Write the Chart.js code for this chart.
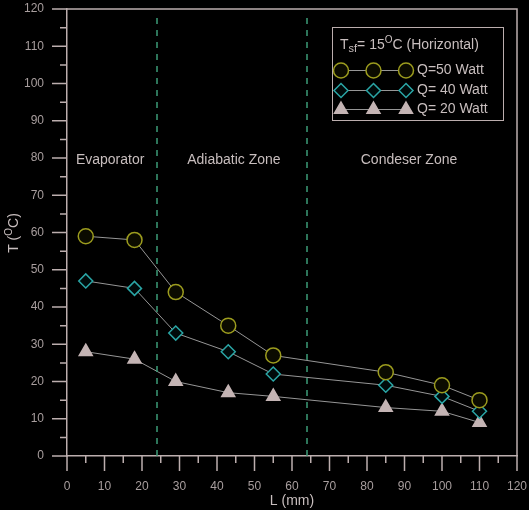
<!DOCTYPE html>
<html>
<head>
<meta charset="utf-8">
<script src="https://cdn.jsdelivr.net/npm/chart.js"></script>
<style>
  html, body { margin: 0; padding: 0; background: #000; }
  #wrap { width: 529px; height: 510px; }
</style>
</head>
<body>
<div id="wrap"><canvas id="myChart" width="529" height="510"></canvas></div>
<script>
// values
var lengths = [5, 18, 29, 43, 55, 85, 100, 110];
var q50 = [59, 58, 44, 35, 27, 22.5, 19, 15];
var q40 = [47, 45, 33, 28, 22, 19, 16, 12];
var q20 = [28, 26, 20, 17, 16, 13, 12, 9];
var seriesNames = ["Q=50 Watt", "Q= 40 Watt", "Q= 20 Watt"];
var zoneBounds = [24, 64];
var zoneNames = ["Evaporator", "Adiabatic Zone", "Condeser Zone"];

var FONT = "'Liberation Sans', Arial, sans-serif";
var axisColor = "#bcaeae";
var textColor = "#c8bebe";

function pts(ys) {
  return ys.map(function (y, i) { return { x: lengths[i], y: y }; });
}

var styles = [
  { pointStyle: "circle", radius: 7.5, border: "#9c9c1e", fill: "#0b0b00" },
  { pointStyle: "rectRot", radius: 7, border: "#2aa6a6", fill: "#000a0a" },
  { pointStyle: "triangle", radius: 7.5, border: "#c4b4b4", fill: "#c4b4b4" }
];

var datasets = [];
zoneBounds.forEach(function (b) {
  datasets.push({
    data: [{ x: b, y: 0 }, { x: b, y: 119 }],
    borderColor: "#3c9c78",
    borderWidth: 1.5,
    borderDash: [6, 6],
    pointRadius: 0,
    showLine: true
  });
});
[q50, q40, q20].forEach(function (ys, i) {
  var s = styles[i];
  datasets.push({
    label: seriesNames[i],
    data: pts(ys),
    showLine: true,
    borderColor: "#969696",
    borderWidth: 1,
    pointStyle: s.pointStyle,
    pointRadius: s.radius,
    pointBorderColor: s.border,
    pointBackgroundColor: s.fill,
    pointBorderWidth: 1.5
  });
});

function drawMarker(ctx, s, x, y) {
  ctx.save();
  ctx.strokeStyle = s.border;
  ctx.fillStyle = s.fill;
  ctx.lineWidth = 1.5;
  ctx.beginPath();
  var r = s.radius;
  if (s.pointStyle == "circle") {
    ctx.arc(x, y, r, 0, Math.PI * 2);
  } else if (s.pointStyle == "rectRot") {
    ctx.moveTo(x, y - r); ctx.lineTo(x + r, y); ctx.lineTo(x, y + r); ctx.lineTo(x - r, y);
    ctx.closePath();
  } else {
    var h = r * 0.866;
    ctx.moveTo(x, y - r); ctx.lineTo(x + h, y + r / 2); ctx.lineTo(x - h, y + r / 2);
    ctx.closePath();
  }
  ctx.fill();
  ctx.stroke();
  ctx.restore();
}

function noPad(s) {
  s.paddingLeft = 0; s.paddingRight = 0; s.paddingTop = 0; s.paddingBottom = 0;
}

var extras = {
  id: "extras",
  beforeDraw: function (chart) {
    var ctx = chart.ctx;
    ctx.save();
    ctx.fillStyle = "#000";
    ctx.fillRect(0, 0, chart.width, chart.height);
    ctx.restore();
  },
  afterDraw: function (chart) {
    var ctx = chart.ctx;
    var xs = chart.scales.x, ys = chart.scales.y;
    var a = chart.chartArea;
    ctx.save();
    ctx.strokeStyle = axisColor;
    ctx.lineWidth = 1.5;
    // frame top & right
    ctx.beginPath();
    ctx.moveTo(a.left, a.top); ctx.lineTo(a.right, a.top); ctx.lineTo(a.right, a.bottom);
    ctx.stroke();
    // ticks, major every 10, minor every 5
    for (var v = 0; v <= 120; v += 5) {
      var len = v % 10 == 0 ? 15 : 7;
      var px = xs.getPixelForValue(v);
      var py = ys.getPixelForValue(v);
      ctx.beginPath();
      ctx.moveTo(px, a.bottom); ctx.lineTo(px, a.bottom + len);
      ctx.moveTo(a.left, py); ctx.lineTo(a.left - len, py);
      ctx.stroke();
    }
    // zone labels
    ctx.fillStyle = textColor;
    ctx.font = "14px " + FONT;
    ctx.textAlign = "center";
    ctx.textBaseline = "middle";
    var zx = [11.5, 44.5, 91.2];
    zoneNames.forEach(function (n, i) {
      ctx.fillText(n, xs.getPixelForValue(zx[i]), ys.getPixelForValue(79.5));
    });
    // y axis title T (oC)
    ctx.save();
    ctx.translate(14, 233);
    ctx.rotate(-Math.PI / 2);
    ctx.textAlign = "left";
    ctx.font = "14px " + FONT;
    var p1 = "T (", p2 = "O", p3 = "C)";
    var w1 = ctx.measureText(p1).width;
    ctx.font = "10px " + FONT;
    var w2 = ctx.measureText(p2).width;
    ctx.font = "14px " + FONT;
    var w3 = ctx.measureText(p3).width;
    var x0 = -(w1 + w2 + w3) / 2;
    ctx.fillText(p1, x0, 0);
    ctx.font = "10px " + FONT;
    ctx.fillText(p2, x0 + w1, -5);
    ctx.font = "14px " + FONT;
    ctx.fillText(p3, x0 + w1 + w2, 0);
    ctx.restore();
    // legend box
    ctx.strokeStyle = axisColor;
    ctx.lineWidth = 1;
    ctx.strokeRect(332.5, 27.5, 171, 93);
    ctx.textAlign = "left";
    ctx.textBaseline = "middle";
    var tx = 340;
    var parts = [
      ["T", 14, 0], ["sf", 11, 4], ["= 15", 14, 0], ["O", 10, -5], ["C (Horizontal)", 14, 0]
    ];
    parts.forEach(function (p) {
      ctx.font = p[1] + "px " + FONT;
      ctx.fillText(p[0], tx, 45 + p[2]);
      tx += ctx.measureText(p[0]).width;
    });
    var rowsY = [70.5, 90.5, 109.5];
    var mx = [341, 373.5, 406];
    styles.forEach(function (s, i) {
      var y = rowsY[i];
      ctx.strokeStyle = "#969696";
      ctx.lineWidth = 1;
      ctx.beginPath();
      ctx.moveTo(mx[0], y); ctx.lineTo(mx[2], y);
      ctx.stroke();
      mx.forEach(function (x) { drawMarker(ctx, s, x, y); });
      ctx.fillStyle = textColor;
      ctx.font = "14px " + FONT;
      ctx.fillText(seriesNames[i], 417, y);
    });
    ctx.restore();
  }
};

var ctx = document.getElementById("myChart").getContext("2d");
var chart = new Chart(ctx, {
  type: "scatter",
  data: { datasets: datasets },
  options: {
    responsive: false,
    animation: false,
    events: [],
    layout: { padding: { left: 0, top: 7, right: 12, bottom: 0 } },
    plugins: { legend: { display: false }, tooltip: { enabled: false } },
    scales: {
      x: {
        type: "linear",
        min: 0, max: 120,
        afterFit: function (s) { s.height = 54; noPad(s); },
        grid: { display: false, drawTicks: false },
        border: { display: true, color: axisColor, width: 1.5 },
        ticks: { stepSize: 10, padding: 23, color: "#a89e9e", font: { family: FONT, size: 12 } },
        title: { display: true, text: "L (mm)", color: textColor, font: { family: FONT, size: 14 }, padding: { top: 0, bottom: 0 } }
      },
      y: {
        type: "linear",
        min: 0, max: 120,
        afterFit: function (s) { s.width = 67; noPad(s); },
        grid: { display: false, drawTicks: false },
        border: { display: true, color: axisColor, width: 1.5 },
        ticks: { stepSize: 10, padding: 23, color: "#a89e9e", font: { family: FONT, size: 12 } }
      }
    }
  },
  plugins: [extras]
});
</script>
</body>
</html>
